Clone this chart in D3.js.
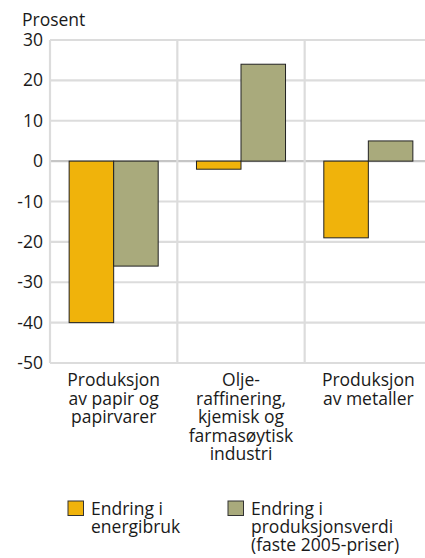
<!DOCTYPE html>
<html><head><meta charset="utf-8">
<script src="https://cdn.jsdelivr.net/npm/d3@7"></script>
<style>body{margin:0;background:#fff}svg{display:block}text{font-family:"Open Sans",sans-serif;fill:#1a1a1a}</style>
</head><body>
<script>
const categories = [
  ["Produksjon","av papir og","papirvarer"],
  ["Olje-","raffinering,","kjemisk og","farmasøytisk","industri"],
  ["Produksjon","av metaller"]
];
const seriesNames = ["energi","produksjon"];
const energibruk = [-40, -2, -19];
const produksjonsverdi = [-26, 24, 5];
const yTicks = [30, 20, 10, 0, -10, -20, -30, -40, -50];
const legendLabels = [["Endring i","energibruk"],["Endring i","produksjonsverdi","(faste 2005-priser)"]];
const colors = ["#f0b30b", "#a9aa7c"];

(function(){
const W = 425, H = 558;
const svg = d3.select("body").append("svg").attr("width", W).attr("height", H);
const mL = 50, mR = 432, mT = 40, mB = 363;
const x = d3.scaleBand().domain(d3.range(categories.length)).range([mL, mR]);
const y = d3.scaleLinear().domain([-50, 30]).range([mB, mT]);
const inner = d3.scaleBand().domain(seriesNames).range([0, x.bandwidth()]).paddingInner(0).paddingOuter(0.43);

// grid
svg.append("g").selectAll("line").data(yTicks).join("line")
  .attr("x1", mL).attr("x2", W).attr("y1", d => y(d)).attr("y2", d => y(d))
  .attr("stroke", d => d === 0 ? "#c6c6c6" : "#dcdcdc").attr("stroke-width", 2.2);
svg.append("g").selectAll("line").data(d3.range(categories.length + 1)).join("line")
  .attr("x1", d => d < categories.length ? x(d) : mR).attr("x2", d => d < categories.length ? x(d) : mR)
  .attr("y1", mT).attr("y2", mB).attr("stroke", "#dcdcdc").attr("stroke-width", 2.2);

// y axis labels
const yAxis = d3.axisLeft(y).tickValues(yTicks).tickSize(0).tickPadding(7).tickFormat(d => String(d));
const ga = svg.append("g").attr("transform", `translate(${mL},0)`).call(yAxis);
ga.select(".domain").remove();
ga.selectAll("text").attr("font-size", 17.5).attr("font-family", "Open Sans").attr("fill", "#1a1a1a");

svg.append("text").attr("x", 22).attr("y", 26).attr("font-size", 17.5).text("Prosent");

// bars
const data = [energibruk, produksjonsverdi];
data.forEach((vals, si) => {
  svg.append("g").selectAll("rect").data(vals).join("rect")
    .attr("x", (d, i) => x(i) + inner(seriesNames[si]))
    .attr("width", inner.bandwidth())
    .attr("y", d => y(Math.max(0, d)))
    .attr("height", d => Math.abs(y(d) - y(0)))
    .attr("fill", colors[si]).attr("stroke", "#222").attr("stroke-width", 1);
});

// category labels
categories.forEach((lines, i) => {
  const t = svg.append("text").attr("text-anchor", "middle").attr("font-size", 17.5);
  lines.forEach((l, j) => t.append("tspan").attr("x", x(i) + x.bandwidth() / 2).attr("y", 386 + j * 18.6).text(l));
});

// legend
const legX = [68, 228];
legendLabels.forEach((lines, i) => {
  svg.append("rect").attr("x", legX[i]).attr("y", 501).attr("width", 15.5).attr("height", 14.5)
    .attr("fill", colors[i]).attr("stroke", "#333").attr("stroke-width", 1);
  const t = svg.append("text").attr("font-size", 17.5);
  lines.forEach((l, j) => t.append("tspan").attr("x", legX[i] + 23).attr("y", 515 + j * 18).text(l));
});
})();
</script>
</body></html>
